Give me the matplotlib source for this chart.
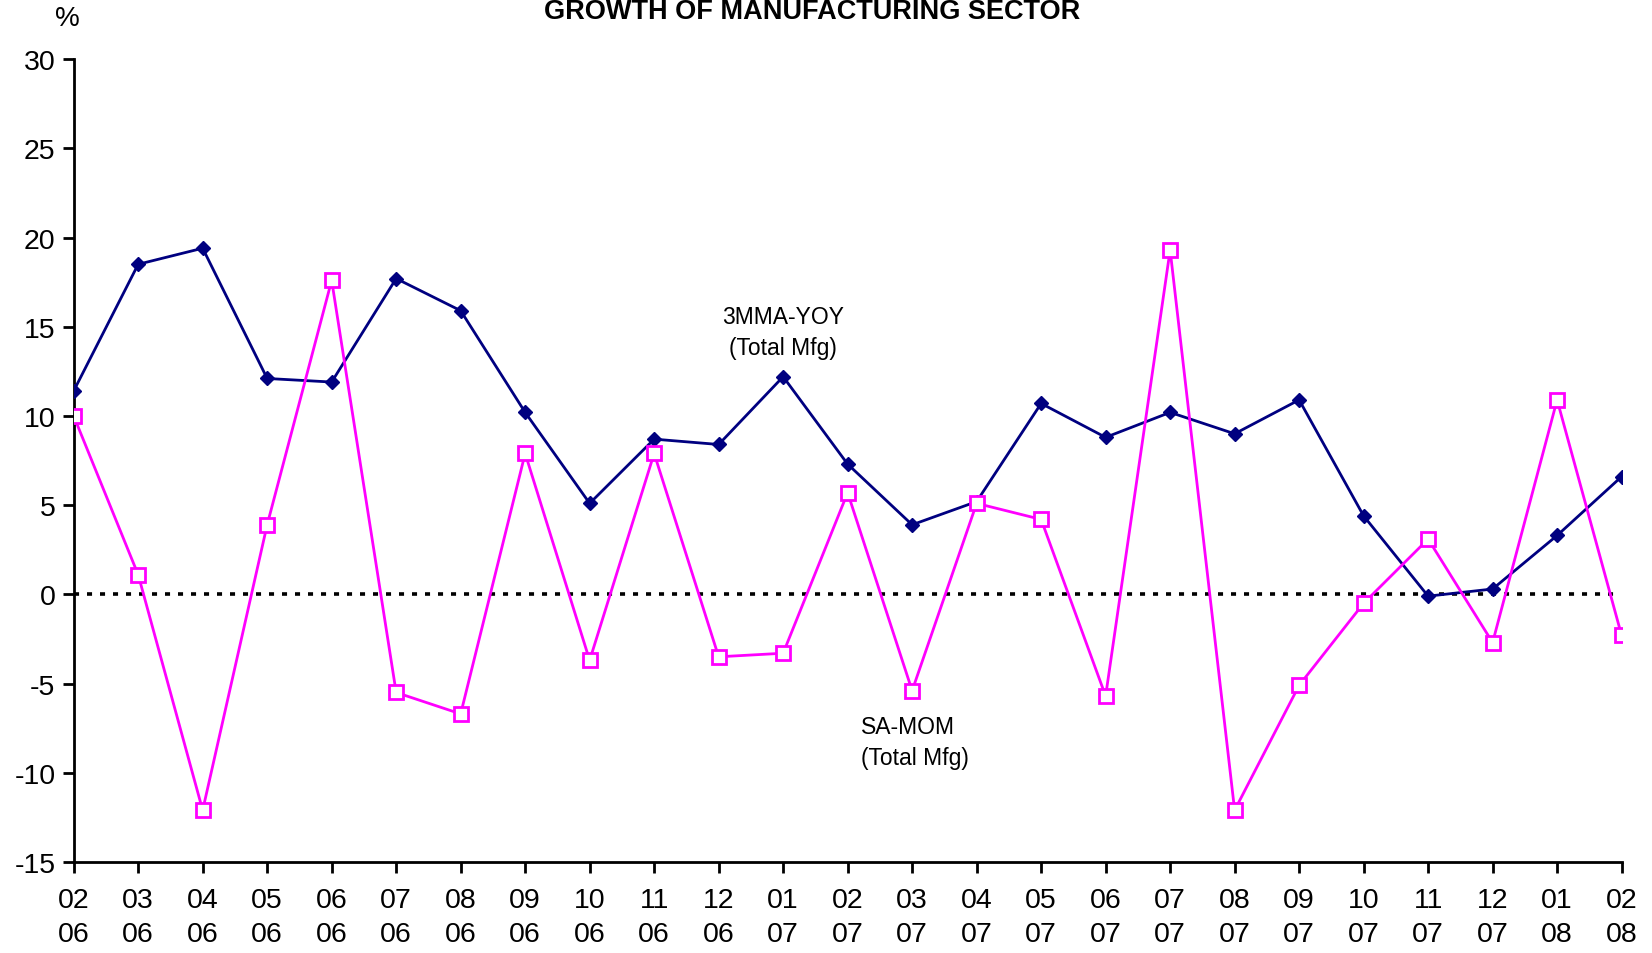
import matplotlib.pyplot as plt
import numpy as np

plt.rcParams['font.family'] = ['Liberation Sans', 'DejaVu Sans']
plt.rcParams['axes.unicode_minus'] = False

# mes / ano
meses = ['02', '03', '04', '05', '06', '07', '08', '09', '10', '11', '12', '01',
         '02', '03', '04', '05', '06', '07', '08', '09', '10', '11', '12', '01', '02']
anos = ['06'] * 11 + ['07'] * 12 + ['08'] * 2
rotulos = [f'{m}\n{a}' for m, a in zip(meses, anos)]

# 3MMA-YOY (Total Mfg)
yoy_3mma = [11.4, 18.5, 19.4, 12.1, 11.9, 17.7, 15.9, 10.2, 5.1, 8.7, 8.4, 12.2,
            7.3, 3.9, 5.2, 10.7, 8.8, 10.2, 9.0, 10.9, 4.4, -0.1, 0.3, 3.3, 6.6]
# SA-MOM (Total Mfg)
sa_mom = [10.0, 1.1, -12.1, 3.9, 17.6, -5.5, -6.7, 7.9, -3.7, 7.9, -3.5, -3.3,
          5.7, -5.4, 5.1, 4.2, -5.7, 19.3, -12.1, -5.1, -0.5, 3.1, -2.7, 10.9, -2.3]

x = np.arange(len(rotulos))

fig = plt.figure(figsize=(16.52, 9.54), dpi=100)
ax = fig.add_axes([0.0446, 0.0954, 0.937, 0.8416])

ax.axhline(0, xmax=0.997, color='black', linestyle=(0, (1.4, 2.2)),
           linewidth=2.6, zorder=1)

ax.plot(x, yoy_3mma, color='#000080', linewidth=2, marker='D', markersize=7,
        markerfacecolor='#000080', markeredgecolor='#000080', zorder=3)
ax.plot(x, sa_mom, color='#FF00FF', linewidth=2, marker='s', markersize=9.5,
        markerfacecolor='white', markeredgecolor='#FF00FF', markeredgewidth=2,
        zorder=4)

ax.text(11, 14.7, '3MMA-YOY\n(Total Mfg)', ha='center', va='center',
        fontsize=16.5, linespacing=1.45)
ax.text(12.2, -8.3, 'SA-MOM\n(Total Mfg)', ha='left', va='center',
        fontsize=16.5, linespacing=1.45)

ax.set_xlim(0, len(rotulos) - 1)
ax.set_ylim(-15, 30)
ax.set_yticks(range(-15, 31, 5))
ax.set_xticks(x)
ax.set_xticklabels(rotulos)

for lado in ['top', 'right']:
    ax.spines[lado].set_visible(False)
for lado in ['left', 'bottom']:
    ax.spines[lado].set_linewidth(2)
ax.tick_params(axis='both', direction='out', width=2, length=8, labelsize=20.5)
ax.tick_params(axis='x', pad=10)
ax.tick_params(axis='y', pad=5)
for t in ax.get_xticklabels():
    t.set_linespacing(1.4)

fig.text(0.4917, 0.987, 'GROWTH OF MANUFACTURING SECTOR', ha='center',
         va='center', fontsize=19.5, fontweight='bold')
fig.text(0.0405, 0.98, '%', ha='center', va='center', fontsize=20)

fig.savefig('out.png', dpi=100)
